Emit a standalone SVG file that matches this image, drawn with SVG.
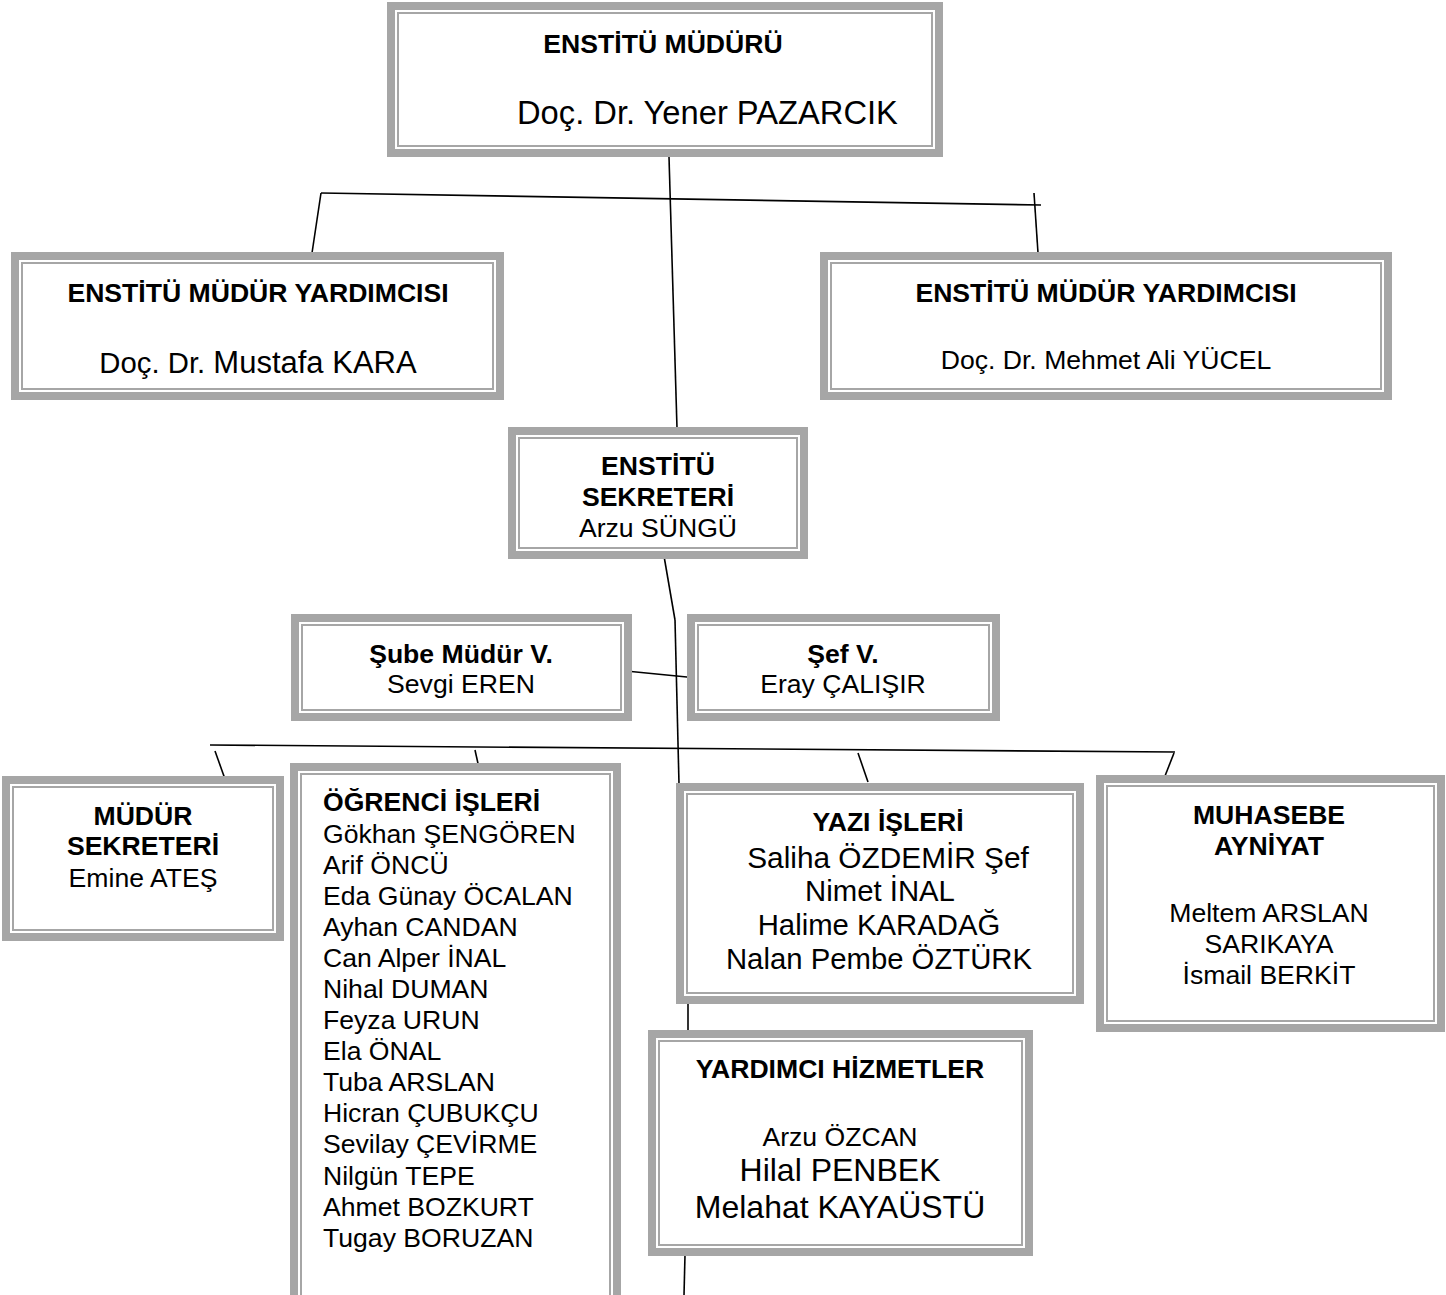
<svg xmlns="http://www.w3.org/2000/svg" width="1446" height="1295" viewBox="0 0 1446 1295">
<style>
.ob{fill:#ffffff;stroke:#a6a6a6;stroke-width:8}
.ib{fill:none;stroke:#a6a6a6;stroke-width:2}
text{font-family:"Liberation Sans",Arial,sans-serif;fill:#000;font-size:26.6px}
.b{font-weight:bold}
.c{text-anchor:middle}
.ln{stroke:#000;stroke-width:1.6;fill:none}
</style>
<rect width="1446" height="1295" fill="#ffffff"/>
<g id="connectors">
<line class="ln" x1="669" y1="157" x2="677" y2="428"/>
<line class="ln" x1="321" y1="193" x2="1041" y2="205"/>
<line class="ln" x1="321" y1="193" x2="312" y2="253"/>
<line class="ln" x1="1034" y1="193" x2="1038" y2="253"/>
<line class="ln" x1="664" y1="556" x2="675" y2="620"/>
<line class="ln" x1="675" y1="620" x2="679" y2="784"/>
<line class="ln" x1="626" y1="671" x2="697" y2="678"/>
<line class="ln" x1="210" y1="745" x2="1175" y2="752"/>
<line class="ln" x1="215" y1="751" x2="225" y2="779"/>
<line class="ln" x1="475" y1="750" x2="481" y2="777"/>
<line class="ln" x1="858" y1="753" x2="868" y2="782"/>
<line class="ln" x1="1174" y1="753" x2="1165" y2="776"/>
<line class="ln" x1="688" y1="1003" x2="688" y2="1031"/>
<line class="ln" x1="685" y1="1255" x2="684" y2="1295"/>
</g>
<g id="enstitu-muduru">
<rect class="ob" x="391" y="6" width="548" height="147"/>
<rect class="ib" x="398" y="13" width="534" height="133"/>
<text class="b c" x="663" y="53">ENSTİTÜ MÜDÜRÜ</text>
<text x="517" y="124" style="font-size:32.7px">Doç. Dr. Yener PAZARCIK</text>
</g>
<g id="mudur-yardimcisi-1">
<rect class="ob" x="15" y="256" width="485" height="140"/>
<rect class="ib" x="22" y="263" width="471" height="126"/>
<text class="b c" x="258" y="302">ENSTİTÜ MÜDÜR YARDIMCISI</text>
<text class="c" x="258" y="373"><tspan style="font-size:29.3px">Doç. Dr. </tspan><tspan style="font-size:31px">Mustafa KARA</tspan></text>
</g>
<g id="mudur-yardimcisi-2">
<rect class="ob" x="824" y="256" width="564" height="140"/>
<rect class="ib" x="831" y="263" width="550" height="126"/>
<text class="b c" x="1106" y="302">ENSTİTÜ MÜDÜR YARDIMCISI</text>
<text class="c" x="1106" y="369">Doç. Dr. Mehmet Ali YÜCEL</text>
</g>
<g id="enstitu-sekreteri">
<rect class="ob" x="512" y="431" width="292" height="124"/>
<rect class="ib" x="519" y="438" width="278" height="110"/>
<text class="b c" x="658" y="475">ENSTİTÜ</text>
<text class="b c" x="658" y="506">SEKRETERİ</text>
<text class="c" x="658" y="537">Arzu SÜNGÜ</text>
</g>
<g id="sube-muduru">
<rect class="ob" x="295" y="618" width="333" height="99"/>
<rect class="ib" x="302" y="625" width="319" height="85"/>
<text class="b c" x="461" y="663">Şube Müdür V.</text>
<text class="c" x="461" y="693">Sevgi EREN</text>
</g>
<g id="sef">
<rect class="ob" x="691" y="618" width="305" height="99"/>
<rect class="ib" x="698" y="625" width="291" height="85"/>
<text class="b c" x="843" y="663">Şef V.</text>
<text class="c" x="843" y="693">Eray ÇALIŞIR</text>
</g>
<g id="mudur-sekreteri">
<rect class="ob" x="6" y="780" width="274" height="157"/>
<rect class="ib" x="13" y="787" width="260" height="143"/>
<text class="b c" x="143" y="825">MÜDÜR</text>
<text class="b c" x="143" y="855">SEKRETERİ</text>
<text class="c" x="143" y="887">Emine ATEŞ</text>
</g>
<g id="ogrenci-isleri">
<rect class="ob" x="294" y="767" width="323" height="560"/>
<rect class="ib" x="301" y="774" width="309" height="546"/>
<text class="b" x="323" y="811">ÖĞRENCİ İŞLERİ</text>
<text x="323" y="843">Gökhan ŞENGÖREN</text>
<text x="323" y="874">Arif ÖNCÜ</text>
<text x="323" y="905">Eda Günay ÖCALAN</text>
<text x="323" y="936">Ayhan CANDAN</text>
<text x="323" y="967">Can Alper İNAL</text>
<text x="323" y="998">Nihal DUMAN</text>
<text x="323" y="1029">Feyza URUN</text>
<text x="323" y="1060">Ela ÖNAL</text>
<text x="323" y="1091">Tuba ARSLAN</text>
<text x="323" y="1122">Hicran ÇUBUKÇU</text>
<text x="323" y="1153">Sevilay ÇEVİRME</text>
<text x="323" y="1185">Nilgün TEPE</text>
<text x="323" y="1216">Ahmet BOZKURT</text>
<text x="323" y="1247">Tugay BORUZAN</text>
</g>
<g id="yazi-isleri">
<rect class="ob" x="680" y="787" width="400" height="213"/>
<rect class="ib" x="687" y="794" width="386" height="199"/>
<text class="b c" x="888" y="831">YAZI İŞLERİ</text>
<text class="c" x="888" y="868" style="font-size:29.8px">Saliha ÖZDEMİR Şef</text>
<text class="c" x="880" y="901" style="font-size:29.3px">Nimet İNAL</text>
<text class="c" x="879" y="935" style="font-size:29.3px">Halime KARADAĞ</text>
<text class="c" x="879" y="969" style="font-size:29.3px">Nalan Pembe ÖZTÜRK</text>
</g>
<g id="muhasebe-ayniyat">
<rect class="ob" x="1100" y="779" width="341" height="249"/>
<rect class="ib" x="1107" y="786" width="327" height="235"/>
<text class="b c" x="1269" y="824">MUHASEBE</text>
<text class="b c" x="1269" y="855">AYNİYAT</text>
<text class="c" x="1269" y="922">Meltem ARSLAN</text>
<text class="c" x="1269" y="953">SARIKAYA</text>
<text class="c" x="1269" y="984">İsmail BERKİT</text>
</g>
<g id="yardimci-hizmetler">
<rect class="ob" x="652" y="1034" width="377" height="218"/>
<rect class="ib" x="659" y="1041" width="363" height="204"/>
<text class="b c" x="840" y="1078">YARDIMCI HİZMETLER</text>
<text class="c" x="840" y="1146">Arzu ÖZCAN</text>
<text class="c" x="840" y="1181" style="font-size:32px">Hilal PENBEK</text>
<text class="c" x="840" y="1218" style="font-size:32px">Melahat KAYAÜSTÜ</text>
</g>
</svg>
